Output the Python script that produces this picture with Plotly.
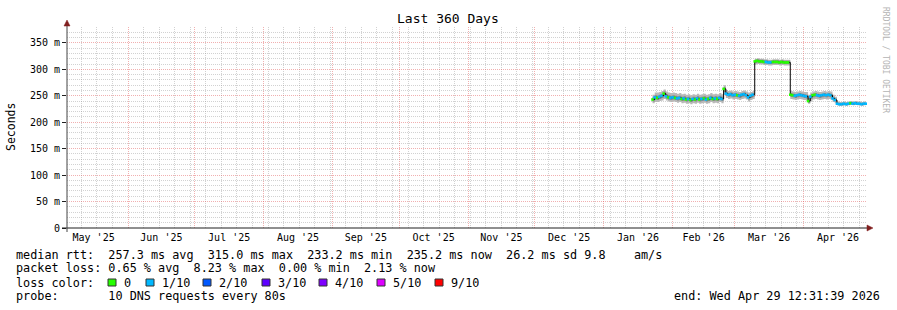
import pandas as pd
import plotly.graph_objects as go

# ---------------- data ----------------
END_TIME = "2026-04-29 12:31:39"
SPAN_DAYS = 360
DATA_START = "2026-01-23"

median_ms = [
    243, 247, 246, 248, 250, 254, 249, 247, 246,
    247, 246, 245, 246, 244, 245, 243, 244, 242, 244, 243, 245, 243, 244, 245, 243, 244, 246, 244, 245, 244, 246, 244,
    263, 254, 252, 253, 251, 252, 251, 250, 252, 253, 251, 247, 250, 252,
    315, 316, 315, 315, 314, 314, 313, 313, 314, 314, 314, 313, 314, 313, 313, 313,
    252, 251, 250, 251, 252, 251, 250, 249, 240, 248, 251, 252, 251, 250, 251, 252, 251, 252, 251, 245, 242,
    235, 234, 234, 235, 234, 235, 236, 235, 236, 235, 235, 234, 235, 235,
]
loss_tenths = [
    0, 1, 0, 1, 1, 0, 1, 0, 1,
    1, 0, 1, 1, 0, 1, 0, 1, 0, 1, 0, 1, 0, 1, 0, 1, 0, 1, 0, 1, 0, 1, 1,
    0, 1, 1, 1, 1, 1, 0, 1, 1, 1, 1, 1, 1, 1,
    0, 0, 0, 0, 0, 1, 1, 1, 0, 0, 0, 0, 0, 0, 0, 0,
    0, 0, 1, 1, 1, 1, 1, 1, 0, 1, 0, 0, 1, 1, 1, 1, 1, 1, 1, 1, 1,
    1, 1, 1, 1, 1, 1, 0, 1, 1, 1, 1, 1, 1, 1,
]
smoke_hi = [
    252, 256, 256, 257, 259, 262, 258, 256, 255,
    256, 255, 254, 255, 253, 254, 252, 253, 251, 253, 252, 254, 252, 253, 254, 252, 253, 255, 253, 254, 253, 255, 253,
    270, 261, 259, 260, 258, 259, 258, 257, 259, 260, 258, 256, 257, 259,
    320, 321, 320, 320, 319, 319, 318, 318, 319, 319, 319, 318, 319, 318, 318, 318,
    259, 258, 257, 258, 259, 258, 257, 257, 252, 256, 258, 259, 258, 257, 258, 259, 258, 259, 258, 252, 248,
    239, 238, 238, 239, 238, 239, 240, 239, 240, 239, 239, 238, 239, 239,
]
smoke_lo = [
    236, 238, 238, 240, 241, 244, 241, 239, 238,
    239, 238, 237, 238, 236, 237, 235, 236, 234, 236, 235, 237, 235, 236, 237, 235, 236, 238, 236, 237, 236, 238, 236,
    252, 246, 244, 245, 243, 244, 243, 242, 244, 245, 243, 239, 242, 244,
    309, 310, 309, 309, 308, 308, 307, 307, 308, 308, 308, 307, 308, 307, 307, 307,
    244, 243, 242, 243, 244, 243, 242, 241, 235, 240, 243, 244, 243, 242, 243, 244, 243, 244, 243, 238, 236,
    232, 231, 231, 232, 231, 232, 233, 232, 233, 232, 232, 231, 232, 232,
]
core_hi = [
    247, 251, 250, 252, 254, 258, 253, 251, 250,
    251, 250, 249, 250, 248, 249, 247, 248, 246, 248, 247, 249, 247, 248, 249, 247, 248, 250, 248, 249, 248, 250, 248,
    266, 257, 255, 256, 254, 255, 254, 253, 255, 256, 254, 251, 253, 255,
    318, 319, 318, 318, 317, 317, 316, 316, 317, 317, 317, 316, 317, 316, 316, 316,
    255, 254, 253, 254, 255, 254, 253, 252, 246, 252, 254, 255, 254, 253, 254, 255, 254, 255, 254, 248, 245,
    237, 236, 236, 237, 236, 237, 238, 237, 238, 237, 237, 236, 237, 237,
]
core_lo = [
    239, 243, 242, 244, 246, 249, 245, 243, 242,
    243, 242, 241, 242, 240, 241, 239, 240, 238, 240, 239, 241, 239, 240, 241, 239, 240, 242, 240, 241, 240, 242, 240,
    257, 250, 248, 249, 247, 248, 247, 246, 248, 249, 247, 243, 246, 248,
    312, 313, 312, 312, 311, 311, 310, 310, 311, 311, 311, 310, 311, 310, 310, 310,
    248, 247, 246, 247, 248, 247, 246, 245, 237, 244, 247, 248, 247, 246, 247, 248, 247, 248, 247, 242, 239,
    233, 232, 232, 233, 232, 233, 234, 233, 234, 233, 233, 232, 233, 233,
]

y_tick_vals = [0, 50, 100, 150, 200, 250, 300, 350]
y_tick_text = ["0", "50 m", "100 m", "150 m", "200 m", "250 m", "300 m", "350 m"]
Y_MAX = 380
Y_MINOR_STEP = 10

loss_levels = [0, 1, 2, 3, 4, 5, 9]
loss_labels = ["0", "1/10", "2/10", "3/10", "4/10", "5/10", "9/10"]
loss_colors = ["#26ff00", "#00b8ff", "#0059ff", "#5e00ff", "#7e00ff", "#dd00ff", "#ff0000"]

title_text = "Last 360 Days"
y_title = "Seconds"
stats_rtt = "median rtt:  257.3 ms avg  315.0 ms max  233.2 ms min  235.2 ms now  26.2 ms sd 9.8    am/s"
stats_loss = "packet loss: 0.65 % avg  8.23 % max  0.00 % min  2.13 % now"
probe_text = "probe:       10 DNS requests every 80s"
end_text = "end: Wed Apr 29 12:31:39 2026"
watermark = "RRDTOOL / TOBI OETIKER"

# ---------------- figure ----------------
end_ts = pd.Timestamp(END_TIME)
start_ts = end_ts - pd.Timedelta(days=SPAN_DAYS)
dates = pd.date_range(DATA_START, periods=len(median_ms), freq="D")

W, H = 897, 310
L, R, T, B = 67, 30, 27, 82
PW, PH = W - L - R, H - T - B
MONO = "DejaVu Sans Mono"


def xp(px):
    return (px - L) / PW


def yp(py):
    return (H - B - py) / PH


fig = go.Figure()

# smoke (outer)
fig.add_trace(go.Scatter(x=dates, y=smoke_lo, mode="lines", line=dict(width=0, shape="hv"),
                         hoverinfo="skip", showlegend=False))
fig.add_trace(go.Scatter(x=dates, y=smoke_hi, mode="lines", line=dict(width=0, shape="hv"),
                         fill="tonexty", fillcolor="#b8b8b8", hoverinfo="skip", showlegend=False))
# smoke (core)
fig.add_trace(go.Scatter(x=dates, y=core_lo, mode="lines", line=dict(width=0, shape="hv"),
                         hoverinfo="skip", showlegend=False))
fig.add_trace(go.Scatter(x=dates, y=core_hi, mode="lines", line=dict(width=0, shape="hv"),
                         fill="tonexty", fillcolor="#888888", hoverinfo="skip", showlegend=False))
# median line
fig.add_trace(go.Scatter(x=dates, y=median_ms, mode="lines", line=dict(color="#000000", width=1, shape="hv"),
                         showlegend=False))
# loss-coloured median markers
for lvl, col in zip(loss_levels, loss_colors):
    xs = [d for d, l in zip(dates, loss_tenths) if l == lvl]
    ys = [m for m, l in zip(median_ms, loss_tenths) if l == lvl]
    if xs:
        fig.add_trace(go.Scatter(x=xs, y=ys, mode="markers",
                                 marker=dict(symbol="square", size=2.6, color=col, line=dict(width=0)),
                                 showlegend=False))

major_grid = "rgba(225,80,80,0.45)"
minor_grid = "rgba(143,143,143,0.4)"

# minor y grid only where there is no major line
y_minor_vals = [v for v in range(Y_MINOR_STEP, Y_MAX + 1, Y_MINOR_STEP) if v not in y_tick_vals]

fig.update_xaxes(
    type="date", range=[start_ts, end_ts],
    dtick="M1", tick0="2025-05-01", ticklabelmode="period", tickformat="%b '%y",
    showgrid=True, gridcolor=major_grid, griddash="1px,1px", gridwidth=1,
    minor=dict(dtick=7 * 86400000, tick0="2025-05-04", showgrid=True,
               gridcolor=minor_grid, griddash="1px,1px", gridwidth=1),
    ticks="", showline=False, zeroline=False, ticklabelstandoff=2,
    tickfont=dict(family=MONO, size=10, color="#000"),
)
fig.update_yaxes(
    range=[0, Y_MAX], tickvals=y_tick_vals, ticktext=y_tick_text,
    showgrid=True, gridcolor=major_grid, griddash="1px,1px", gridwidth=1,
    minor=dict(tickvals=y_minor_vals, showgrid=True, gridcolor=minor_grid, griddash="1px,1px", gridwidth=1),
    ticks="outside", ticklen=4, tickcolor="#1f1f1f", showline=False, zeroline=False,
    tickfont=dict(family=MONO, size=10, color="#000"),
)

arrow_col = "#801f1f"
axis_col = "#1f1f1f"
shapes = [
    dict(type="line", xref="paper", yref="paper", x0=xp(62), x1=xp(868), y0=0, y1=0,
         line=dict(color=axis_col, width=1)),
    dict(type="line", xref="paper", yref="paper", x0=0, x1=0, y0=yp(232), y1=yp(24),
         line=dict(color="#444", width=1)),
    dict(type="path", xref="paper", yref="paper",
         path=f"M {xp(873)},{yp(228)} L {xp(867)},{yp(225)} L {xp(867)},{yp(231)} Z",
         fillcolor=arrow_col, line=dict(color=arrow_col, width=0.5)),
    dict(type="path", xref="paper", yref="paper",
         path=f"M {xp(67)},{yp(20)} L {xp(64)},{yp(26)} L {xp(70)},{yp(26)} Z",
         fillcolor=arrow_col, line=dict(color=arrow_col, width=0.5)),
]

annotations = [
    dict(text=title_text, x=xp(448), y=yp(19), xref="paper", yref="paper", showarrow=False,
         xanchor="center", yanchor="middle", font=dict(family=MONO, size=13, color="#000")),
    dict(text=y_title, x=xp(11), y=yp(127), xref="paper", yref="paper", showarrow=False,
         textangle=-90, xanchor="center", yanchor="middle", font=dict(family=MONO, size=11.5, color="#000")),
    dict(text=watermark, x=xp(886), y=yp(60), xref="paper", yref="paper", showarrow=False,
         textangle=90, xanchor="center", yanchor="middle", font=dict(family=MONO, size=8, color="#b4b4b4")),
]

LEG_SIZE = 11.8
row_y = [255, 268, 282.5, 296]


def left_text(txt, px, py):
    return dict(text=txt.replace(" ", "\u00a0"), x=xp(px), y=yp(py), xref="paper", yref="paper",
                showarrow=False, xanchor="left", yanchor="middle",
                font=dict(family=MONO, size=LEG_SIZE, color="#000"))


annotations.append(left_text(stats_rtt, 14, row_y[0]))
annotations.append(left_text(stats_loss, 14, row_y[1]))
annotations.append(left_text("loss color:", 14, row_y[2]))
annotations.append(left_text(probe_text, 14, row_y[3]))
annotations.append(dict(text=end_text.replace(" ", "\u00a0"), x=xp(882), y=yp(row_y[3]), xref="paper",
                        yref="paper", showarrow=False, xanchor="right", yanchor="middle",
                        font=dict(family=MONO, size=LEG_SIZE, color="#000")))

box_left_px = [108, 146, 203, 262, 319, 377, 435]
for bx, lab, col in zip(box_left_px, loss_labels, loss_colors):
    shapes.append(dict(type="rect", xref="paper", yref="paper",
                       x0=xp(bx), x1=xp(bx + 8), y0=yp(row_y[2] + 3.5), y1=yp(row_y[2] - 3.5),
                       fillcolor=col, line=dict(color="#333", width=1)))
    annotations.append(left_text(lab, bx + 14, row_y[2]))

fig.update_layout(
    width=W, height=H, margin=dict(l=L, r=R, t=T, b=B),
    paper_bgcolor="#ffffff", plot_bgcolor="#ffffff",
    showlegend=False, shapes=shapes, annotations=annotations,
    font=dict(family=MONO, color="#000"),
)

fig.write_html("out.html")
